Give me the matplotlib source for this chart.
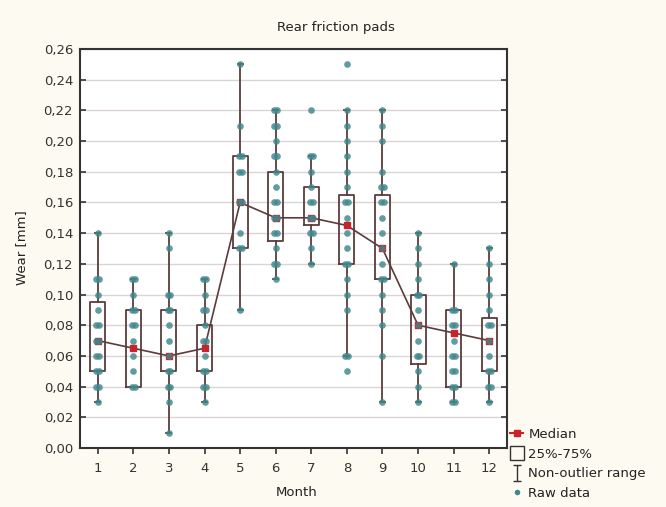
import matplotlib
matplotlib.use('Agg')
import matplotlib.pyplot as plt
from matplotlib.lines import Line2D
from matplotlib.path import Path
from collections import Counter

# ---------------- data ----------------
months = list(range(1, 13))
month_labels = [str(m) for m in months]
yticks = [0.00, 0.02, 0.04, 0.06, 0.08, 0.10, 0.12, 0.14, 0.16, 0.18, 0.20, 0.22, 0.24, 0.26]
ytick_labels = ["0,00", "0,02", "0,04", "0,06", "0,08", "0,10", "0,12", "0,14",
                "0,16", "0,18", "0,20", "0,22", "0,24", "0,26"]

median = [0.07, 0.065, 0.06, 0.065, 0.16, 0.15, 0.15, 0.145, 0.13, 0.08, 0.075, 0.07]
q1 = [0.05, 0.04, 0.05, 0.05, 0.13, 0.135, 0.145, 0.12, 0.11, 0.055, 0.04, 0.05]
q3 = [0.095, 0.09, 0.09, 0.08, 0.19, 0.18, 0.17, 0.165, 0.165, 0.10, 0.09, 0.085]
whisk_lo = [0.03, 0.04, 0.01, 0.03, 0.09, 0.11, 0.12, 0.06, 0.03, 0.03, 0.03, 0.03]
whisk_hi = [0.14, 0.11, 0.14, 0.11, 0.25, 0.22, 0.19, 0.22, 0.22, 0.14, 0.12, 0.13]

raw_m1 = [0.14, 0.11, 0.11, 0.10, 0.09, 0.08, 0.08, 0.07, 0.07, 0.06, 0.06, 0.05, 0.05, 0.04, 0.04, 0.03]
raw_m2 = [0.11, 0.11, 0.10, 0.09, 0.09, 0.08, 0.08, 0.07, 0.06, 0.05, 0.04, 0.04]
raw_m3 = [0.14, 0.13, 0.10, 0.10, 0.09, 0.09, 0.08, 0.07, 0.06, 0.05, 0.05, 0.04, 0.04, 0.03, 0.01]
raw_m4 = [0.11, 0.11, 0.10, 0.09, 0.09, 0.08, 0.07, 0.07, 0.06, 0.05, 0.05, 0.04, 0.04, 0.03]
raw_m5 = [0.25, 0.21, 0.19, 0.19, 0.18, 0.18, 0.16, 0.16, 0.14, 0.13, 0.13, 0.09]
raw_m6 = [0.22, 0.22, 0.21, 0.21, 0.20, 0.19, 0.19, 0.18, 0.17, 0.16, 0.16, 0.15, 0.15,
          0.14, 0.14, 0.13, 0.12, 0.12, 0.11]
raw_m7 = [0.22, 0.19, 0.19, 0.18, 0.17, 0.16, 0.16, 0.15, 0.15, 0.14, 0.14, 0.13, 0.12]
raw_m8 = [0.25, 0.22, 0.21, 0.20, 0.19, 0.18, 0.17, 0.16, 0.16, 0.15, 0.14, 0.13, 0.12, 0.12,
          0.11, 0.10, 0.09, 0.06, 0.06, 0.05]
raw_m9 = [0.22, 0.21, 0.20, 0.18, 0.17, 0.17, 0.16, 0.16, 0.15, 0.14, 0.13, 0.12, 0.11, 0.11,
          0.10, 0.09, 0.08, 0.06, 0.03]
raw_m10 = [0.14, 0.13, 0.12, 0.11, 0.10, 0.10, 0.09, 0.08, 0.07, 0.06, 0.06, 0.05, 0.04, 0.03]
raw_m11 = [0.12, 0.09, 0.09, 0.08, 0.08, 0.07, 0.06, 0.06, 0.05, 0.05, 0.04, 0.04, 0.03, 0.03]
raw_m12 = [0.13, 0.12, 0.11, 0.10, 0.09, 0.08, 0.08, 0.07, 0.06, 0.05, 0.05, 0.04, 0.04, 0.03]
raw_all = [raw_m1, raw_m2, raw_m3, raw_m4, raw_m5, raw_m6, raw_m7, raw_m8,
           raw_m9, raw_m10, raw_m11, raw_m12]

# ---------------- style ----------------
BG = '#fcfaf1'
BOX = '#5c3b3b'
RED = '#c8232b'
TEAL = '#3f878b'
GRID = '#dcd4d4'
plt.rcParams['font.family'] = ['DejaVu Sans']
FS = 9.5

fig = plt.figure(figsize=(6.66, 5.07), dpi=100, facecolor=BG)
ax = fig.add_axes([80 / 666, 1 - 448 / 507, 427 / 666, 399 / 507])
ax.set_facecolor('white')

stats = [dict(med=m, q1=a, q3=b, whislo=lo, whishi=hi, fliers=[])
         for m, a, b, lo, hi in zip(median, q1, q3, whisk_lo, whisk_hi)]
lp = dict(color=BOX, linewidth=1.3)
ax.bxp(stats, positions=months, widths=0.42, showfliers=False, capwidths=0.14,
       boxprops=lp, whiskerprops=lp, capprops=lp,
       medianprops=dict(linewidth=0), manage_ticks=False, zorder=2)

ax.plot(months, median, color=BOX, linewidth=1.2, marker='s', markersize=5,
        markerfacecolor=RED, markeredgecolor=RED, zorder=3)


def dodge(values, step=0.08):
    counts = Counter(values)
    seen = {}
    out = []
    for v in values:
        n = counts[v]
        k = seen.get(v, 0)
        seen[v] = k + 1
        out.append((k - (n - 1) / 2) * step)
    return out


for m, vals in zip(months, raw_all):
    offs = dodge(vals)
    ax.plot([m + o for o in offs], vals, 'o', markersize=4.8, color=TEAL,
            markeredgewidth=0, alpha=0.82, zorder=4)

ax.set_xlim(0.5, 12.5)
ax.set_ylim(0, 0.26)
ax.set_xticks(months)
ax.set_xticklabels(month_labels, fontsize=FS, color='#333333')
ax.set_yticks(yticks)
ax.set_yticklabels(ytick_labels, fontsize=FS, color='#333333')
ax.yaxis.grid(True, color=GRID, linewidth=1.0, zorder=0)
ax.set_axisbelow(True)
ax.tick_params(axis='x', direction='out', length=4, width=1.2, color='#333333', pad=6)
ax.tick_params(axis='y', direction='in', length=4, width=1.2, color='#333333',
               right=True, left=True, pad=5)
for s in ax.spines.values():
    s.set_color('#333333')
    s.set_linewidth(1.5)

fig.text(0.505, 1 - 28 / 507, 'Rear friction pads', ha='center', va='center',
         fontsize=FS, color='#222222')
fig.text(22 / 666, 1 - 248 / 507, 'Wear [mm]', rotation=90, ha='center', va='center',
         fontsize=FS, color='#222222')
fig.text(297 / 666, 1 - 493 / 507, 'Month', ha='center', va='center',
         fontsize=FS, color='#222222')

ibeam = Path([(-0.5, -1), (0.5, -1), (0, -1), (0, 1), (-0.5, 1), (0.5, 1)],
             [Path.MOVETO, Path.LINETO, Path.MOVETO, Path.LINETO, Path.MOVETO, Path.LINETO])
handles = [
    Line2D([], [], color=RED, linewidth=1.5, marker='s', markersize=5,
           markerfacecolor=RED, markeredgecolor=RED),
    Line2D([], [], linestyle='none', marker='s', markersize=10.5,
           markerfacecolor='none', markeredgecolor='#333333', markeredgewidth=1.0),
    Line2D([], [], linestyle='none', marker=ibeam, markersize=11,
           markerfacecolor='none', markeredgecolor='#333333', markeredgewidth=1.0),
    Line2D([], [], linestyle='none', marker='o', markersize=4,
           markerfacecolor=TEAL, markeredgewidth=0),
]
labels = ['Median', '25%-75%', 'Non-outlier range', 'Raw data']
fig.legend(handles, labels, loc='upper left', bbox_to_anchor=(510 / 666, 1 - 428 / 507),
           frameon=False, fontsize=FS, handlelength=1.0, handletextpad=0.4,
           labelspacing=0.5, borderaxespad=0, borderpad=0, labelcolor='#222222')

fig.savefig('out.png', dpi=100, facecolor=BG)
